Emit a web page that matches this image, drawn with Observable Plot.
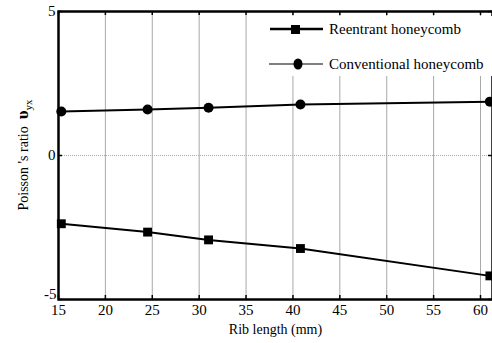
<!DOCTYPE html>
<html><head><meta charset="utf-8">
<script src="https://cdn.jsdelivr.net/npm/d3@7"></script>
<script src="https://cdn.jsdelivr.net/npm/@observablehq/plot@0.6"></script>
<style>
body{margin:0;background:#fff;}
#wrap{position:relative;width:492px;height:343px;font-family:"Liberation Serif","Times New Roman",serif;}
#legend{position:absolute;left:250px;top:16px;width:242px;height:60px;background:#fff;}
</style></head>
<body><div id="wrap"><div id="chart"></div><div id="legend"></div></div>
<script>
const ribLength = [15.3, 24.5, 31, 40.8, 61];
const reentrant = [-2.37, -2.66, -2.93, -3.23, -4.18];
const conventional = [1.53, 1.60, 1.66, 1.77, 1.87];
const seriesNames = ["Reentrant honeycomb", "Conventional honeycomb"];
const xTicks = [15, 20, 25, 30, 35, 40, 45, 50, 55, 60];
const yTicks = [-5, 0, 5];

const rows = [];
ribLength.forEach((x, i) => {
  rows.push({x, y: reentrant[i], s: seriesNames[0]});
  rows.push({x, y: conventional[i], s: seriesNames[1]});
});

const plot = Plot.plot({
  width: 492, height: 343,
  marginLeft: 58, marginTop: 11, marginBottom: 44, marginRight: 0,
  style: {fontFamily: '"Liberation Serif","Times New Roman",serif', fontSize: "14px", background: "#fff", color: "#000"},
  x: {domain: [15, 61.28]},
  y: {domain: [-5, 5]},
  marks: [
    Plot.ruleX(xTicks.slice(1), {x: d => d, stroke: "#a8a8a8", strokeWidth: 1}),
    Plot.ruleY([0], {stroke: "#aaa", strokeWidth: 1, strokeDasharray: "1,1"}),
    Plot.tickX(xTicks, {x: d => d, insetTop: 284, stroke: "#000", strokeWidth: 1.5}),
    Plot.tickX(xTicks, {x: d => d, insetBottom: 284, stroke: "#000", strokeWidth: 1.5}),
    Plot.tickY(yTicks, {y: d => d, insetRight: 430, stroke: "#000", strokeWidth: 1.5}),
    Plot.tickY(yTicks, {y: d => d, insetLeft: 430, stroke: "#000", strokeWidth: 1.5}),
    Plot.line(rows, {x: "x", y: "y", z: "s", stroke: "#000", strokeWidth: 2}),
    Plot.dot(rows.filter(d => d.s === seriesNames[0]), {x: "x", y: "y", symbol: "square", r: 5, fill: "#000"}),
    Plot.dot(rows.filter(d => d.s === seriesNames[1]), {x: "x", y: "y", r: 5, fill: "#000"}),
    Plot.frame({stroke: "#000", strokeWidth: 2.5}),
    Plot.axisX({ticks: xTicks, tickSize: 0, tickPadding: 5, label: null, fontSize: 15}),
    Plot.axisY({ticks: yTicks.filter(d => d !== -5), tickSize: 0, tickPadding: 3, label: null, fontSize: 15}),
    Plot.axisY({ticks: [-5], tickSize: 0, tickPadding: 2, dy: -5, label: null, fontSize: 15, tickFormat: d => String(d)}),
    Plot.text(["Rib length (mm)"], {frameAnchor: "bottom", dy: 34, fontSize: 14})
  ]
});
document.getElementById("chart").appendChild(plot);

// y axis label with subscript
const svg = d3.select(plot);
const yl = svg.append("text")
  .attr("transform", "translate(28,155) rotate(-90)")
  .attr("text-anchor", "middle")
  .attr("font-size", 14)
  .attr("fill", "#000");
yl.append("tspan").text("Poisson 's ratio  ");
yl.append("tspan").text("υ").attr("font-size", 17).attr("font-weight", "bold");
yl.append("tspan").text("yx").attr("font-size", 11).attr("dy", 4);

// legend
const lg = d3.select("#legend").append("svg").attr("width", 242).attr("height", 60)
  .style("font-family", '"Liberation Serif","Times New Roman",serif');
lg.append("line").attr("x1", 20).attr("x2", 73).attr("y1", 13).attr("y2", 13).attr("stroke", "#000").attr("stroke-width", 2.5);
lg.append("rect").attr("x", 41).attr("y", 9).attr("width", 9).attr("height", 9).attr("fill", "#000");
lg.append("text").attr("x", 79).attr("y", 18).attr("font-size", 15).text(seriesNames[0]);
lg.append("line").attr("x1", 19).attr("x2", 73).attr("y1", 48).attr("y2", 48).attr("stroke", "#000").attr("stroke-width", 1.2);
lg.append("ellipse").attr("cx", 48).attr("cy", 48).attr("rx", 4.5).attr("ry", 5.5).attr("fill", "#000");
lg.append("text").attr("x", 79).attr("y", 53).attr("font-size", 15).text(seriesNames[1]);
</script></body></html>
